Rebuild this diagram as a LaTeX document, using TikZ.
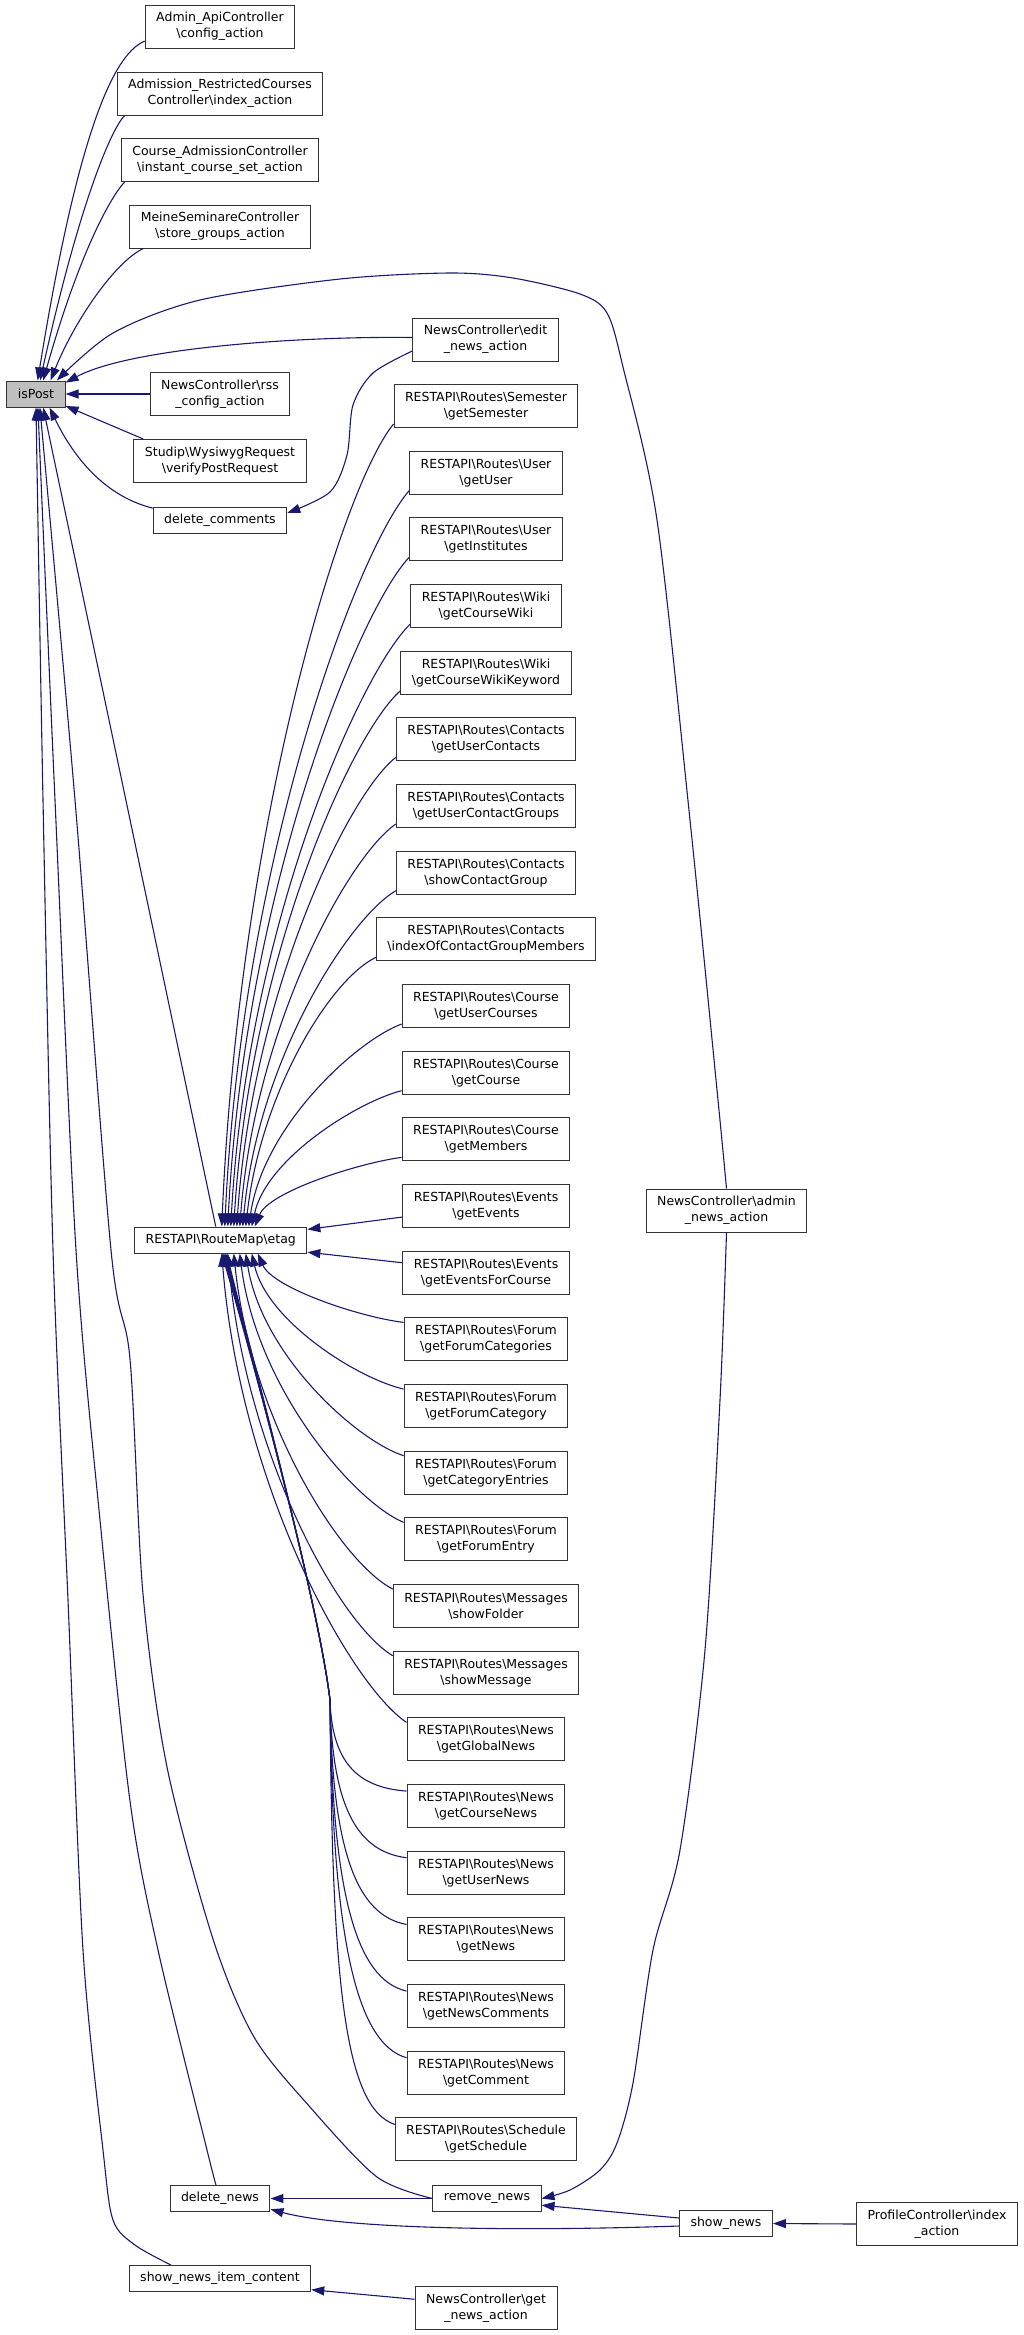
\documentclass[tikz,border=0pt]{standalone}
\usepackage{fontspec}
\newfontfamily\dotfont{DejaVu Sans}
\usetikzlibrary{arrows.meta}
\definecolor{edgeblue}{HTML}{191970}
\definecolor{rootgray}{HTML}{BFBFBF}
\newcommand{\bsl}{\textbackslash}

\tikzset{
  fn/.style={draw=black!80, fill=white, line width=1pt, font=\dotfont\fontsize{12.5}{16}\selectfont,
    align=center, inner xsep=11pt, inner ysep=0pt, minimum height=26pt},
  fntwo/.style={fn, minimum height=43pt},
  rootfn/.style={fn, fill=rootgray},
  call/.style={draw=edgeblue, line width=1.1pt, -{Triangle[length=13pt,width=9pt]}},
}

\begin{document}
\begin{tikzpicture}[x=1pt, y=-1pt]

\useasboundingbox (0,0) rectangle (1024,2335);

% function boxes, one column per rank
\node[rootfn] (isPost) at (36,394) {isPost};

\node[fntwo] (adminapi) at (220,26.5) {Admin\_ApiController\\\bsl config\_action};
\node[fntwo] (admission) at (220,93.5) {Admission\_RestrictedCourses\\Controller\bsl index\_action};
\node[fntwo] (courseadm) at (220,160) {Course\_AdmissionController\\\bsl instant\_course\_set\_action};
\node[fntwo] (meinesem) at (220,226.5) {MeineSeminareController\\\bsl store\_groups\_action};
\node[fntwo] (rss) at (220,394) {NewsController\bsl rss\\\_config\_action};
\node[fntwo] (wysiwyg) at (220,461) {Studip\bsl WysiwygRequest\\\bsl verifyPostRequest};
\node[fn] (delcomm) at (220,520) {delete\_comments};
\node[fn] (etag) at (220.75,1240) {RESTAPI\bsl RouteMap\bsl etag};
\node[fn] (delnews) at (220,2198.5) {delete\_news};
\node[fn] (shownewsitem) at (220,2278.5) {show\_news\_item\_content};

\node[fntwo] (editnews) at (485.5,339.5) {NewsController\bsl edit\\\_news\_action};
\foreach \grp/\meth [count=\i from 0] in {Semester/getSemester, User/getUser, User/getInstitutes,
    Wiki/getCourseWiki, Wiki/getCourseWikiKeyword, Contacts/getUserContacts,
    Contacts/getUserContactGroups, Contacts/showContactGroup, Contacts/indexOfContactGroupMembers,
    Course/getUserCourses, Course/getCourse, Course/getMembers, Events/getEvents,
    Events/getEventsForCourse, Forum/getForumCategories, Forum/getForumCategory,
    Forum/getCategoryEntries, Forum/getForumEntry, Messages/showFolder, Messages/showMessage,
    News/getGlobalNews, News/getCourseNews, News/getUserNews, News/getNews,
    News/getNewsComments, News/getComment, Schedule/getSchedule}
    \node[fntwo] (r\i) at (486,{406+66.67*\i}) {RESTAPI\bsl Routes\bsl \grp\\\bsl \meth};
\node[fn] (removenews) at (487,2198.5) {remove\_news};
\node[fntwo] (getnews) at (486,2308) {NewsController\bsl get\\\_news\_action};

\node[fntwo] (adminnews) at (726.5,1210.5) {NewsController\bsl admin\\\_news\_action};
\node[fn] (shownews) at (726,2223.5) {show\_news};

\node[fntwo] (profile) at (937,2224) {ProfileController\bsl index\\\_action};

% callers of isPost
\draw[call] (adminapi.191) .. controls (110,55) and (75,150) .. (isPost.83);
\draw[call] (admission.193) .. controls (112,128) and (80,200) .. (isPost.73);
\draw[call] (courseadm.193) .. controls (112,195) and (80,250) .. (isPost.62);
\draw[call] (meinesem.196) .. controls (115,262) and (75,320) .. (isPost.43);
\draw[call] plot[smooth] coordinates {(adminnews.north) (718,1100) (690,820) (657,520) (623,367)
    (607,313) (580,294) (513,278) (450,273) (340,279) (200,300) (113,333) (isPost.33)};
\draw[call] ([yshift=2pt]editnews.west) .. controls (300,336) and (130,348) .. (isPost.21);
\draw[call] (rss.west) -- (isPost.east);
\draw[call] (wysiwyg.164) -- (isPost.-22);
\draw[call] (delcomm.170) .. controls (100,495) and (70,450) .. (isPost.-45);
\draw[call] ([xshift=-5pt]etag.north) -- (isPost.-62);
\draw[call] plot[smooth] coordinates {(removenews.west) (377,2177) (310,2107) (254,2037) (213,1939)
    (167,1767) (143,1594) (130,1359) (111,1250) (75,800) (isPost.-74)};
\draw[call] plot[smooth] coordinates {([xshift=-4pt]delnews.north) (207,2150) (158,1950) (130,1801)
    (100,1520) (76,1250) (55,800) (isPost.-82)};
\draw[call] plot[smooth] coordinates {([xshift=-49pt]shownewsitem.north) (135,2245) (113,2220)
    (103,2150) (83,1950) (68,1600) (53,1250) (43,800) (isPost.-90)};

\draw[call] plot[smooth] coordinates {([yshift=-11.5pt]editnews.west) (373,373) (353,405) (347,455)
    (330,492) (delcomm.6)};

% route handlers into etag
\foreach \i in {0,...,11} {
  \pgfmathsetmacro\off{1+3*\i}
  \pgfmathsetmacro\gapx{175-3*\i}
  \pgfmathsetmacro\gapy{803-66.67*\i}
  \draw[call] ([yshift=4pt]r\i.south west) .. controls +({-0.3*\gapx},{0.08*\gapy})
    and +({0.1*\gapx},{-0.5*\gapy}) .. ([xshift=\off pt]etag.north);
}
\draw[call] ([yshift=-11pt]r12.west) -- (etag.7);
\draw[call] ([yshift=10pt]r13.west) -- (etag.-8);
\foreach \i in {14,...,20} {
  \pgfmathsetmacro\off{37-6*(\i-14)}
  \pgfmathsetmacro\gapx{187-\off}
  \pgfmathsetmacro\gapy{66.67*\i-865}
  \draw[call] ([yshift=-5pt]r\i.north west) .. controls +({-0.3*\gapx},{-0.08*\gapy})
    and +({0.1*\gapx},{0.5*\gapy}) .. ([xshift=\off pt]etag.south);
}
\coordinate (bundle) at (330,1700);
\foreach \i in {21,...,26} {
  \pgfmathsetmacro\sy{406+66.67*\i-14.5}
  \pgfmathsetmacro\off{\i-20}
  \draw[call] ([yshift=-7pt]r\i.north west) .. controls +(-50,{-0.04*(\sy-1700)})
    and (332,{1700+0.67*(\sy-1700)}) .. (bundle) .. controls (318,1600) and (250,1350)
    .. ([xshift=\off pt]etag.south);
}

% news removal chain
\draw[call] (removenews.west) -- (delnews.east);
\draw[call] plot[smooth] coordinates {(adminnews.south) (720,1400) (705,1650) (680,1850) (653,1950)
    (633,2083) (617,2143) (600,2170) (570,2190) (removenews.east)};
\draw[call] ([yshift=5.5pt]shownews.west) -- (removenews.-7);
\draw[call] ([yshift=-2.5pt]shownews.west) .. controls (500,2232) and (340,2228) .. (delnews.-12);
\draw[call] (profile.west) -- (shownews.east);
\draw[call] (getnews.173) -- (shownewsitem.-7);

\end{tikzpicture}
\end{document}
